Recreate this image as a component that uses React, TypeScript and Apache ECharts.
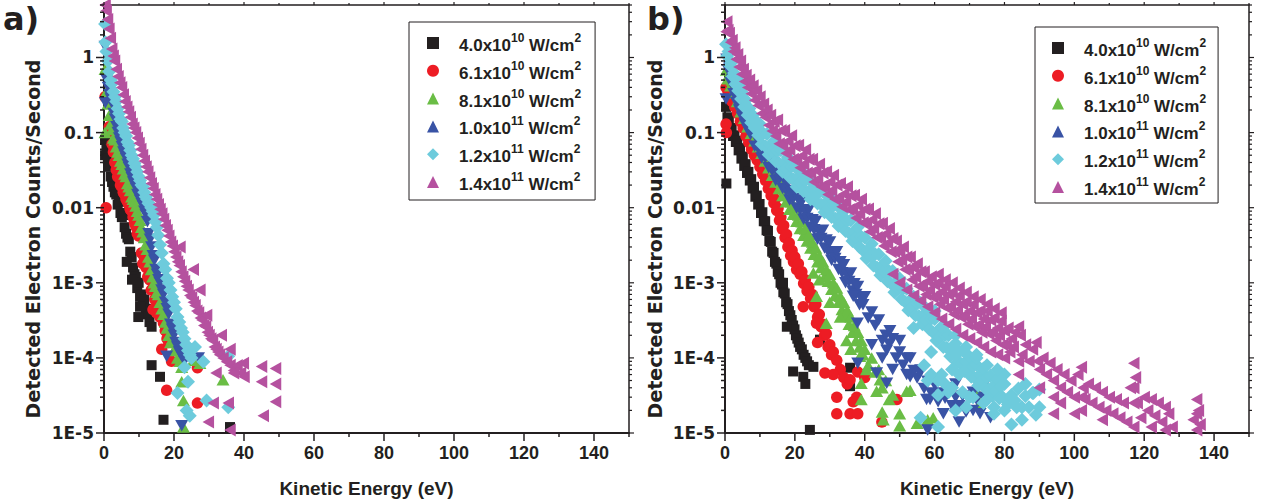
import React, { useEffect, useRef } from "react";
import * as echarts from "echarts";

type Pt = [number, number];

// ---------- legend / series meta ----------
const seriesNames: string[] = [
  "4.0x10^10 W/cm^2",
  "6.1x10^10 W/cm^2",
  "8.1x10^10 W/cm^2",
  "1.0x10^11 W/cm^2",
  "1.2x10^11 W/cm^2",
  "1.4x10^11 W/cm^2",
];
const legendBase: string[] = ["4.0x10", "6.1x10", "8.1x10", "1.0x10", "1.2x10", "1.4x10"];
const legendExp: string[] = ["10", "10", "10", "11", "11", "11"];
const unitText = " W/cm";
const unitExp = "2";

const colors: string[] = ["#231f20", "#ed1c24", "#6abd45", "#3953a5", "#6dcbdc", "#b5519f"];
const symbols: string[] = ["rect", "circle", "triangle", "triangle", "diamond", "triangle"];
const symbolRotates: number[] = [0, 0, 0, 180, 0, 90];
const symbolSizes: [number, number][] = [[10, 10], [11.5, 11.5], [13, 11.5], [13, 11.5], [14, 14], [13, 11.5]];

// ---------- axes ----------
const xTickValues: number[] = [0, 20, 40, 60, 80, 100, 120, 140];
const xTickLabels: string[] = ["0", "20", "40", "60", "80", "100", "120", "140"];
const xMinorValues: number[] = [10, 30, 50, 70, 90, 110, 130, 150];
const yTickValues: number[] = [1e-5, 1e-4, 1e-3, 0.01, 0.1, 1];
const yTickLabels: string[] = ["1E-5", "1E-4", "1E-3", "0.01", "0.1", "1"];
const yMinorMultipliers: number[] = [2, 3, 4, 5, 6, 7, 8, 9];
const xMin = 0, xMax = 150, yMin = 1e-5, yMax = 5;

// ---------- panel a data (Kinetic Energy eV, counts/s) ----------
const aBlack: Pt[] = [
  [0.3, 8e-2], [0.3, 5e-2], [0.7, 6e-2], [1.1, 4.5e-2], [1.5, 3.5e-2], [1.9, 2.6e-2], [2.3, 2.2e-2], [2.7, 1.9e-2],
  [3.1, 1.6e-2], [3.5, 1.5e-2], [3.9, 1.1e-2], [4.3, 1.2e-2], [4.7, 8.5e-3], [5.1, 7.5e-3], [5.5, 8e-3], [5.9, 5.5e-3],
  [6.3, 4.5e-3], [6.7, 4e-3], [7.1, 3.8e-3], [7.5, 2.6e-3], [7.9, 2.2e-3], [8.3, 1.6e-3], [8.7, 1.3e-3], [9.1, 1.2e-3],
  [9.5, 8.5e-4], [9.9, 1.0e-3], [10.3, 6.5e-4], [10.7, 7e-4], [11.1, 5.5e-4], [11.5, 6e-4], [12, 4.5e-4], [12.5, 3.8e-4],
  [13, 3e-4], [13.6, 2.6e-4], [9.8, 3.5e-4], [6.5, 1.9e-3], [8, 1.1e-3], [10.3, 4.8e-4], [13.6, 8e-5], [16, 5.6e-5],
  [17, 1.5e-5], [36, 1.2e-5],
];
const aRed: Pt[] = [
  [0.3, 3e-1], [0.6, 1e-2], [1.5, 1.2e-1], [1.9, 1.0e-1], [2.3, 7e-2], [2.7, 5.5e-2], [3.1, 4e-2], [3.5, 3.2e-2],
  [3.9, 2.6e-2], [4.3, 2.5e-2], [4.7, 2e-2], [5.1, 1.9e-2], [5.5, 1.6e-2], [5.9, 1.5e-2], [6.3, 1.3e-2], [6.7, 1.2e-2],
  [7.1, 1.1e-2], [7.5, 9.5e-3], [7.9, 9e-3], [8.3, 7.5e-3], [8.7, 6.3e-3], [9.1, 5.6e-3], [9.5, 4.5e-3], [9.9, 4.2e-3],
  [10.3, 4.5e-3], [10.7, 2.5e-3], [11.1, 1.8e-3], [11.5, 2.2e-3], [12, 1.6e-3], [12.5, 1.2e-3], [13, 1.1e-3], [13.5, 8e-4],
  [14, 4.4e-4], [14.5, 6e-4], [15, 4e-4], [15.5, 4.5e-4], [16, 3.5e-4], [16.5, 1.3e-4], [17, 2.9e-4], [17.5, 2.3e-4],
  [18, 1.8e-4], [18.5, 1.6e-4], [19.3, 1.6e-4], [19.3, 9e-5], [17.9, 3.7e-5], [21, 1.5e-4], [26.7, 7.4e-5], [26.7, 2.5e-5],
];
const aGreen: Pt[] = [
  [0.3, 7e-1], [0.3, 1e-1], [0.7, 3.5e-1], [1.1, 2.4e-1], [1.5, 1.7e-1], [1.9, 1.3e-1], [2.3, 1.1e-1], [2.7, 8.5e-2],
  [3.1, 8e-2], [3.5, 6.5e-2], [3.9, 5.5e-2], [4.3, 5e-2], [4.7, 4.2e-2], [5.1, 3.8e-2], [5.5, 3.3e-2], [5.9, 2.8e-2],
  [6.3, 2.6e-2], [6.7, 2.1e-2], [7.1, 1.9e-2], [7.5, 1.7e-2], [7.9, 1.4e-2], [8.3, 1.3e-2], [8.7, 1.2e-2], [9.1, 1.05e-2],
  [9.5, 9e-3], [9.9, 8e-3], [10.3, 6.8e-3], [10.7, 5.5e-3], [11.1, 4.8e-3], [11.5, 4e-3], [11.9, 3.2e-3], [12.3, 2.8e-3],
  [12.7, 2.2e-3], [13.1, 1.9e-3], [13.5, 1.5e-3], [13.9, 1.2e-3], [14.3, 1.0e-3], [14.7, 9e-4], [15.1, 7.5e-4], [15.5, 7e-4],
  [16, 5.5e-4], [16.5, 4.5e-4], [17, 3.8e-4], [17.5, 3e-4], [18, 2.5e-4], [18.5, 2e-4], [19, 1.6e-4], [19.5, 1.8e-4],
  [20, 1.25e-4], [20.5, 1.4e-4], [21, 1.0e-4], [21.7, 9e-5], [22.2, 7.5e-5], [22.2, 4.8e-5], [22.7, 2.7e-5], [22.7, 1.2e-5],
  [25.5, 9.3e-5], [27.4, 8.5e-5], [34, 5.1e-5],
];
const aBlue: Pt[] = [
  [0.3, 1.4], [0.4, 2.5e-1], [0.8, 5e-1], [1.2, 4e-1], [1.6, 3.2e-1], [2, 2.8e-1], [2.4, 2.4e-1], [2.8, 1.8e-1],
  [3.2, 1.5e-1], [3.6, 1.2e-1], [4, 1.0e-1], [4.4, 8.5e-2], [4.8, 7.5e-2], [5.2, 6.5e-2], [5.6, 5.5e-2], [6, 5e-2],
  [6.4, 4.5e-2], [6.8, 3.8e-2], [7.2, 3.4e-2], [7.6, 2.8e-2], [8, 2.5e-2], [8.4, 2.2e-2], [8.8, 2e-2], [9.2, 1.8e-2],
  [9.6, 1.5e-2], [10, 1.4e-2], [10.4, 1.25e-2], [10.8, 1.15e-2], [11.2, 1.05e-2], [11.6, 9e-3], [12, 8e-3], [12.4, 6.5e-3],
  [12.8, 4.5e-3], [13.2, 3.8e-3], [13.6, 3e-3], [14, 2.3e-3], [14.4, 2e-3], [14.8, 1.5e-3], [15.2, 1.3e-3], [15.6, 1.1e-3],
  [16, 1.0e-3], [16.5, 8e-4], [17, 7e-4], [17.5, 5.5e-4], [18, 4.5e-4], [18.5, 3.8e-4], [19, 2.8e-4], [19.5, 2.4e-4],
  [20, 2e-4], [20.5, 1.6e-4], [21, 1.4e-4], [21.5, 1.2e-4], [22, 1.1e-4], [17.9, 1.05e-4], [23, 9e-5], [25, 1.3e-4],
  [22.2, 1.25e-5], [27, 1e-4],
];
const aCyan: Pt[] = [
  [0.3, 2.8], [0.4, 1.6], [0.7, 1.2], [1.1, 9e-1], [1.5, 6.5e-1], [1.9, 5e-1], [2.3, 4.5e-1], [2.7, 3.5e-1],
  [3.1, 3e-1], [3.5, 2.6e-1], [3.9, 2.1e-1], [4.3, 1.8e-1], [4.7, 1.5e-1], [5.1, 1.4e-1], [5.5, 1.15e-1], [5.9, 1.0e-1],
  [6.3, 9e-2], [6.7, 7.5e-2], [7.1, 6.8e-2], [7.5, 5.8e-2], [7.9, 5e-2], [8.3, 4.5e-2], [8.7, 3.9e-2], [9.1, 3.5e-2],
  [9.5, 3e-2], [9.9, 2.6e-2], [10.3, 2.3e-2], [10.7, 2e-2], [11.1, 1.9e-2], [11.5, 1.6e-2], [11.9, 1.4e-2], [12.3, 1.3e-2],
  [12.7, 1.15e-2], [13.1, 1.1e-2], [13.5, 1.0e-2], [13.9, 9e-3], [14.3, 8e-3], [14.7, 6.5e-3], [15.1, 5.5e-3], [15.5, 4.3e-3],
  [16, 3.2e-3], [16.5, 2.5e-3], [17, 1.8e-3], [17.5, 1.5e-3], [18, 1.15e-3], [18.5, 1e-3], [19, 8e-4], [19.5, 6.5e-4],
  [20, 5.5e-4], [20.5, 4.5e-4], [21, 3.5e-4], [21.5, 3e-4], [22, 2.5e-4], [22.5, 2.2e-4], [23, 1.8e-4], [23.5, 1.5e-4],
  [24, 1.25e-4], [24.5, 1.1e-4], [25, 1e-4], [23, 7.5e-5], [24, 4.8e-5], [21, 3.4e-5], [23.6, 2e-5], [24.5, 1.7e-5],
  [29.3, 2.7e-5], [28.4, 8.9e-5], [35.5, 2.2e-5], [35.5, 1.05e-4], [26, 1.4e-4],
];
const aMagenta: Pt[] = [
  [0.3, 5.0], [0.6, 4.2], [1, 3.2], [1.4, 2.4], [1.8, 1.8], [2.2, 1.3], [2.6, 1.05], [3, 0.9], [3.5, 0.7], [4, 0.56],
  [4.5, 0.46], [5, 0.4], [5.5, 0.32], [6, 0.26], [6.5, 0.22], [7, 0.19], [7.5, 0.16], [8, 0.13], [8.5, 0.115], [9, 0.1],
  [9.5, 0.085], [10, 0.072], [10.5, 0.06], [11, 0.05], [11.5, 0.042], [12, 0.035], [12.5, 0.03], [13, 0.025], [13.5, 0.021],
  [14, 0.018], [14.5, 0.015], [15, 0.013], [15.5, 0.011], [16, 0.0095], [16.5, 0.0083], [17, 0.007], [17.5, 0.0058],
  [18, 0.005], [18.5, 0.0042], [19, 0.0035], [19.5, 0.0031], [20, 0.0026], [20.5, 0.0022], [21, 0.0019], [21.5, 0.0017],
  [22, 0.0014], [22.5, 0.0012], [23, 0.00105], [23.5, 0.0009], [24, 0.0008], [24.5, 0.00068], [25, 0.00063], [25.5, 0.00055],
  [26, 0.0005], [26.5, 0.00042], [27, 0.0004], [27.5, 0.00034], [28, 0.00032], [28.5, 0.00027], [29, 0.00026], [29.5, 0.00022],
  [30, 0.0002], [30.5, 0.00018], [31, 0.00017], [31.5, 0.00014], [32, 0.00013], [32.5, 0.00012], [33, 0.00011], [34, 0.0001],
  [35, 8.9e-5], [36, 8e-5], [37, 6.8e-5], [38, 7.9e-5], [39, 6.3e-5], [40, 5.6e-5], [21.7, 0.003], [25.5, 0.0015],
  [27.4, 0.0008], [29.3, 0.00037], [33.5, 0.0002], [36, 0.00013], [39.8, 8.5e-5], [45, 7.7e-5], [49, 7.2e-5], [45, 4.8e-5],
  [49, 4.5e-5], [49, 2.6e-5], [45.5, 1.7e-5], [36, 1.1e-5], [29.8, 1.4e-5], [31.2, 2.5e-5], [35.5, 2.5e-5], [32, 6.3e-5],
  [37, 6.3e-5],
];

// ---------- panel b data ----------
const bBlack: Pt[] = [
  [0.3, 0.22], [0.4, 0.021], [0.7, 0.16], [1.1, 0.15], [1.5, 0.11], [1.9, 0.115], [2.3, 0.09], [2.7, 0.092], [3.1, 0.075],
  [3.5, 0.078], [3.9, 0.058], [4.3, 0.062], [4.7, 0.045], [5.1, 0.048], [5.5, 0.036], [5.9, 0.038], [6.3, 0.029], [6.7, 0.03],
  [7.1, 0.023], [7.5, 0.024], [7.9, 0.018], [8.3, 0.019], [8.7, 0.014], [9.1, 0.0145], [9.5, 0.011], [9.9, 0.0112],
  [10.3, 0.0085], [10.7, 0.0087], [11.1, 0.0066], [11.5, 0.0066], [11.9, 0.005], [12.3, 0.0049], [12.7, 0.0036], [13.1, 0.0035],
  [13.5, 0.0026], [13.9, 0.0025], [14.3, 0.0019], [14.7, 0.0018], [15.1, 0.0014], [15.5, 0.0013], [15.9, 0.001], [16.3, 0.00095],
  [16.7, 0.00075], [17.1, 0.00072], [17.5, 0.00055], [17.9, 0.00052], [18.3, 0.00042], [18.7, 0.00037], [19.1, 0.00032],
  [19.5, 0.00027], [19.9, 0.00024], [20.3, 0.0002], [20.7, 0.00018], [21.1, 0.00016], [21.5, 0.00014], [22, 0.00013],
  [22.5, 0.00011], [23, 0.0001], [23.5, 9e-5], [24, 8e-5], [19.5, 6.6e-5], [22.4, 5.6e-5], [23, 4.5e-5], [25.3, 7.6e-5],
  [27.2, 1.75e-4], [35.8, 7.4e-5], [35.8, 4.2e-5], [24.3, 1.1e-5], [16.6, 1e-3], [17.7, 2.6e-4],
];
const bRed: Pt[] = [
  [0.3, 0.4], [0.3, 0.13], [0.4, 0.1], [0.8, 0.36], [1.2, 0.3], [1.6, 0.33], [2, 0.26], [2.4, 0.3], [2.8, 0.22], [3.2, 0.25],
  [3.6, 0.18], [4, 0.2], [4.4, 0.14], [4.8, 0.16], [5.2, 0.115], [5.6, 0.13], [6, 0.09], [6.4, 0.105], [6.8, 0.074],
  [7.2, 0.085], [7.6, 0.06], [8, 0.07], [8.4, 0.05], [8.8, 0.057], [9.2, 0.043], [9.6, 0.048], [10, 0.035], [10.4, 0.04],
  [10.8, 0.028], [11.2, 0.033], [11.6, 0.023], [12, 0.026], [12.4, 0.018], [12.8, 0.02], [13.2, 0.0145], [13.6, 0.016],
  [14, 0.0115], [14.4, 0.013], [14.8, 0.0092], [15.2, 0.0098], [15.6, 0.0068], [16, 0.0075], [16.4, 0.0052], [16.8, 0.0058],
  [17.2, 0.004], [17.6, 0.0044], [18, 0.003], [18.4, 0.0034], [18.8, 0.0023], [19.2, 0.0027], [19.6, 0.0019], [20, 0.0022],
  [20.5, 0.0015], [21, 0.0018], [21.5, 0.0013], [22, 0.0014], [22.5, 0.00098], [23, 0.0011], [23.5, 0.00078], [24, 0.00088],
  [24.5, 0.00062], [25, 0.0007], [25.5, 0.00048], [26, 0.00052], [26.5, 0.00035], [27, 0.00038], [27.5, 0.00026], [28, 0.00028],
  [28.5, 0.0002], [29, 0.00021], [29.5, 0.00014], [30, 0.00015], [30.5, 0.00011], [31, 0.00012], [32, 9.3e-5], [33, 7e-5],
  [34, 5.5e-5], [35, 4.5e-5], [22.4, 4.8e-4], [26.2, 2.9e-4], [26.5, 1.6e-4], [28.6, 6.3e-5], [32, 3e-5], [32, 1.8e-5],
  [35.8, 5.1e-5], [35.8, 1.8e-5], [37.7, 3e-5], [38, 1.8e-5], [44.9, 1.4e-5], [49.2, 2.8e-5], [31, 6e-5], [36.7, 2.6e-5],
  [38, 6.5e-5], [40, 5.5e-5],
];
const bGreen: Pt[] = [
  [0.4, 0.68], [0.8, 0.52], [1.2, 0.6], [1.6, 0.42], [2, 0.5], [2.5, 0.34], [3, 0.39], [3.5, 0.26], [4, 0.3], [4.5, 0.19],
  [5, 0.23], [5.5, 0.155], [6, 0.18], [6.5, 0.12], [7, 0.145], [7.5, 0.098], [8, 0.115], [8.5, 0.078], [9, 0.094],
  [9.5, 0.065], [10, 0.08], [10.5, 0.053], [11, 0.063], [11.5, 0.042], [12, 0.052], [12.5, 0.034], [13, 0.041], [13.5, 0.027],
  [14, 0.032], [14.5, 0.022], [15, 0.027], [15.5, 0.018], [16, 0.022], [16.5, 0.0145], [17, 0.0175], [17.5, 0.012],
  [18, 0.0145], [18.5, 0.0095], [19, 0.012], [19.5, 0.0082], [20, 0.0101], [20.5, 0.0066], [21, 0.008], [21.5, 0.0053],
  [22, 0.0065], [22.5, 0.0043], [23, 0.0052], [23.5, 0.0036], [24, 0.0044], [24.5, 0.0029], [25, 0.0035], [25.5, 0.0024],
  [26, 0.0029], [26.5, 0.0019], [27, 0.0023], [27.5, 0.0016], [28, 0.0019], [28.5, 0.0012], [29, 0.0015], [29.5, 0.00105],
  [30, 0.0013], [30.5, 0.00082], [31, 0.001], [31.5, 0.00068], [32, 0.00085], [32.5, 0.00055], [33, 0.00066], [33.5, 0.00044],
  [34, 0.00055], [34.5, 0.00036], [35, 0.00043], [35.5, 0.00028], [36, 0.00035], [36.5, 0.00022], [37, 0.00027], [37.5, 0.00017],
  [38, 0.00022], [38.5, 0.00014], [39, 0.00017], [39.5, 0.00011], [40, 0.00013], [41, 8e-5], [42, 1e-4], [43, 6.5e-5],
  [44, 7e-5], [45, 4e-5], [46, 5e-5], [47, 2.8e-5], [48, 3.2e-5], [50, 1.8e-5], [25.3, 1.35e-3], [26.2, 6.6e-4], [29, 2.9e-4],
  [34.8, 1.7e-4], [38.6, 1.05e-4], [39, 4.6e-5], [39, 2.8e-5], [44.4, 5.1e-5], [43.4, 3.6e-5], [45, 1.9e-5], [45.3, 1.5e-5],
  [50, 1.25e-5], [52, 3.6e-5], [53, 3.7e-5], [55, 1.35e-5], [58, 1.5e-5], [59.6, 1.6e-5], [72, 3.7e-5], [73, 2.5e-5],
  [40.5, 7e-5], [36, 1.3e-4], [30, 5.5e-4], [33, 3.5e-4], [27, 1.1e-3],
];
const bBlue: Pt[] = [
  [0.3, 0.28], [0.5, 0.95], [0.9, 0.68], [1.3, 0.72], [1.7, 0.46], [2.1, 0.5], [2.5, 0.33], [2.9, 0.4], [3.3, 0.25],
  [3.7, 0.29], [4.1, 0.2], [4.5, 0.23], [4.9, 0.16], [5.3, 0.19], [5.7, 0.13], [6.1, 0.165], [6.5, 0.11], [6.9, 0.13],
  [7.3, 0.094], [7.7, 0.115], [8, 0.112], [8.5, 0.066], [9, 0.084], [9.5, 0.061], [10, 0.079], [10.5, 0.046], [11, 0.056],
  [11.5, 0.046], [12, 0.059], [12.5, 0.034], [13, 0.043], [13.5, 0.031], [14, 0.04], [14.5, 0.023], [15, 0.029], [15.5, 0.024],
  [16, 0.031], [16.5, 0.018], [17, 0.023], [17.5, 0.0168], [18, 0.0216], [18.5, 0.0127], [19, 0.0158], [19.5, 0.0132],
  [20, 0.0169], [20.5, 0.0099], [21, 0.0127], [21.5, 0.0093], [22, 0.012], [22.5, 0.007], [23, 0.0086], [23.5, 0.0072],
  [24, 0.0094], [24.5, 0.0055], [25, 0.0069], [25.5, 0.0051], [26, 0.0066], [26.5, 0.0038], [27, 0.0047], [27.5, 0.0039],
  [28, 0.005], [28.5, 0.0029], [29, 0.0037], [29.5, 0.0026], [30, 0.0035], [30.5, 0.002], [31, 0.0025], [31.5, 0.0021],
  [32, 0.0026], [32.5, 0.0015], [33, 0.0019], [33.5, 0.00136], [34, 0.00174], [34.5, 0.001], [35, 0.00125], [35.5, 0.00104],
  [36, 0.00135], [36.5, 0.00078], [37, 0.00097], [37.5, 0.0007], [38, 0.00089], [38.5, 0.00051], [39, 0.00062], [39.5, 0.00051],
  [40, 0.00065], [41, 0.00034], [42, 0.00041], [43, 0.00027], [44, 0.00032], [45, 0.00017], [46, 0.0002], [47, 0.000153],
  [48, 0.00018], [49, 0.0001], [50, 0.00012], [51, 8e-5], [52, 1e-4], [53, 5.6e-5], [54, 6.8e-5], [55, 5.4e-5], [56, 6.9e-5],
  [57, 3.9e-5], [58, 4.9e-5], [59, 3.4e-5], [60, 4.4e-5], [61, 2.6e-5], [62, 3.4e-5], [63, 2.9e-5], [64, 3.8e-5], [65, 2.3e-5],
  [66, 3e-5], [67, 2.3e-5], [68, 3.1e-5], [69, 1.9e-5], [70, 6.3e-5], [71, 2e-5], [72, 2.8e-5], [73, 1.8e-5], [75, 5e-5],
  [76, 1.6e-5], [37.9, 2.9e-4], [36.7, 6.6e-4], [47.2, 2.3e-4], [46.3, 1.26e-4], [43.4, 6.3e-5], [46.3, 4.6e-5], [38, 8.5e-5],
  [55.8, 6.3e-5], [58.7, 2.8e-5], [58, 1.1e-5], [50, 1.7e-4], [52, 6e-5], [57.7, 2.8e-5], [59.6, 5.1e-5], [64.4, 4e-5],
  [45, 1e-4], [42, 1.5e-4], [53, 1e-4], [48, 7e-5], [61, 5e-5], [66, 4.5e-5], [71, 3.5e-5], [74, 3e-5], [62.5, 1.8e-5],
  [67, 1.4e-5],
];
const bCyan: Pt[] = [
  [0.3, 1.5], [0.6, 1.05], [1, 1.2], [1.4, 0.78], [1.8, 0.85], [2.2, 0.56], [2.6, 0.62], [3, 0.44], [3.4, 0.52], [3.8, 0.36],
  [4.2, 0.44], [4.6, 0.28], [5, 0.34], [5.5, 0.22], [6, 0.27], [6.5, 0.17], [7, 0.21], [7.5, 0.135], [8, 0.17], [8.5, 0.115],
  [9, 0.14], [9.5, 0.092], [10, 0.13], [10.5, 0.07], [11, 0.097], [11.5, 0.066], [12, 0.096], [12.5, 0.051], [13, 0.068],
  [13.5, 0.056], [14, 0.077], [14.5, 0.042], [15, 0.057], [15.5, 0.039], [16, 0.058], [16.5, 0.03], [17, 0.04], [17.5, 0.033],
  [18, 0.047], [18.5, 0.0255], [19, 0.035], [19.5, 0.024], [20, 0.035], [20.5, 0.019], [21, 0.026], [21.5, 0.0216], [22, 0.03],
  [22.5, 0.0165], [23, 0.023], [23.5, 0.016], [24, 0.024], [24.5, 0.013], [25, 0.018], [25.5, 0.015], [26, 0.021], [26.5, 0.0114],
  [27, 0.016], [27.5, 0.011], [28, 0.0163], [28.5, 0.0087], [29, 0.0118], [29.5, 0.0098], [30, 0.0137], [30.5, 0.0075],
  [31, 0.0105], [31.5, 0.0072], [32, 0.0108], [32.5, 0.0057], [33, 0.0078], [33.5, 0.0064], [34, 0.009], [34.5, 0.0049],
  [35, 0.0067], [35.5, 0.0046], [36, 0.0068], [36.5, 0.0036], [37, 0.0048], [37.5, 0.004], [38, 0.0055], [38.5, 0.003],
  [39, 0.0041], [39.5, 0.0027], [40, 0.004], [40.5, 0.0021], [41, 0.0028], [41.5, 0.0023], [42, 0.0033], [42.5, 0.0017],
  [43, 0.0024], [43.5, 0.0016], [44, 0.0024], [44.5, 0.00126], [45, 0.0017], [45.5, 0.0014], [46, 0.00195], [46.5, 0.00105],
  [47, 0.00143], [47.5, 0.00098], [48, 0.00144], [48.5, 0.00075], [49, 0.001], [49.5, 0.00083], [50, 0.00114], [50.5, 0.00061],
  [51, 0.00083], [51.5, 0.00056], [52, 0.00083], [52.5, 0.00043], [53, 0.00057], [53.5, 0.00047], [54, 0.00065], [54.5, 0.00037],
  [55, 0.00053], [55.5, 0.00036], [56, 0.00054], [56.5, 0.00028], [57, 0.00038], [57.5, 0.00032], [58, 0.00044], [58.5, 0.00024],
  [59, 0.00033], [59.5, 0.00022], [60, 0.00033], [60.5, 0.00017], [61, 0.00023], [61.5, 0.00019], [62, 0.00026], [62.5, 0.00014],
  [63, 0.0002], [63.5, 0.000136], [64, 0.0002], [64.5, 0.000105], [65, 0.00014], [65.5, 0.000115], [66, 0.000156],
  [66.5, 8.6e-5], [67, 0.00012], [67.5, 8.4e-5], [68, 0.000125], [68.5, 6.7e-5], [69, 9e-5], [69.5, 7.5e-5], [70, 0.000104],
  [70.5, 5.6e-5], [71, 7.7e-5], [71.5, 5.4e-5], [72, 8.1e-5], [72.5, 4.3e-5], [73, 6e-5], [73.5, 5e-5], [74, 7.2e-5],
  [74.5, 3.9e-5], [75, 5.5e-5], [75.5, 3.8e-5], [76, 5.8e-5], [76.5, 3.1e-5], [77, 4.3e-5], [77.5, 3.6e-5], [78, 5.2e-5],
  [78.5, 2.9e-5], [79, 4.2e-5], [79.5, 3e-5], [80, 4.5e-5], [81, 2.4e-5], [82, 3.2e-5], [83, 2.7e-5], [84, 3.9e-5],
  [85, 2.2e-5], [86, 3.1e-5], [87, 2.2e-5], [88, 3.4e-5], [89, 1.75e-5], [90, 2.2e-5], [56, 1.6e-5], [61, 1.2e-5], [61, 3.2e-5],
  [66, 2e-5], [75, 2.8e-5], [85, 1.5e-5], [70, 3e-5], [62, 6e-5], [58, 5e-5], [67, 6e-5], [72, 1e-4], [80, 6e-5], [83.5, 2.2e-5],
  [88.3, 3.4e-5], [64, 3.5e-5], [69, 2.2e-5], [77, 1.8e-5], [82, 1.3e-5], [86, 4.5e-5], [90, 3.8e-5], [54, 2.5e-4],
  [59, 1.2e-4], [65, 7e-5], [57, 8e-5], [59, 6e-5], [61, 5e-5], [63, 4.5e-5], [65, 4e-5], [68, 3.5e-5], [71, 3e-5],
  [74, 2.5e-5], [77, 2.2e-5], [80, 2e-5], [60, 0.00042], [63, 0.00027], [66, 0.0002], [69, 0.00014], [72, 0.00011],
  [75, 8e-5], [78, 7e-5],
];
const bMagenta: Pt[] = [
  [0.3, 2.2], [0.5, 3.0], [0.8, 2.3], [1.2, 2.1], [1.6, 1.6], [2, 1.7], [2.4, 1.2], [2.8, 1.35], [3.2, 0.95], [3.6, 1.1],
  [4, 0.75], [4.4, 0.9], [4.8, 0.6], [5.2, 0.7], [5.6, 0.48], [6, 0.58], [6.5, 0.4], [7, 0.5], [7.5, 0.33], [8, 0.42],
  [8.5, 0.27], [9, 0.36], [9.5, 0.23], [10, 0.3], [10.5, 0.18], [11, 0.24], [11.5, 0.16], [12, 0.2], [12.5, 0.125], [13, 0.17],
  [13.5, 0.105], [14, 0.14], [14.5, 0.09], [15, 0.147], [15.5, 0.071], [16, 0.107], [16.5, 0.07], [17, 0.107], [17.5, 0.053],
  [18, 0.077], [18.5, 0.059], [19, 0.091], [19.5, 0.044], [20, 0.067], [20.5, 0.044], [21, 0.068], [21.5, 0.034], [22, 0.049],
  [22.5, 0.038], [23, 0.059], [23.5, 0.029], [24, 0.044], [24.5, 0.029], [25, 0.044], [25.5, 0.022], [26, 0.0315], [26.5, 0.024],
  [27, 0.038], [27.5, 0.019], [28, 0.029], [28.5, 0.019], [29, 0.03], [29.5, 0.015], [30, 0.022], [30.5, 0.017], [31, 0.027],
  [31.5, 0.013], [32, 0.02], [32.5, 0.0134], [33, 0.021], [33.5, 0.0103], [34, 0.0152], [34.5, 0.0119], [35, 0.019],
  [35.5, 0.0094], [36, 0.0144], [36.5, 0.0095], [37, 0.0147], [37.5, 0.0073], [38, 0.0108], [38.5, 0.0083], [39, 0.013],
  [39.5, 0.0063], [40, 0.0095], [40.5, 0.0062], [41, 0.0096], [41.5, 0.0048], [42, 0.0069], [42.5, 0.0053], [43, 0.0083],
  [43.5, 0.004], [44, 0.0061], [44.5, 0.004], [45, 0.0062], [45.5, 0.0031], [46, 0.0045], [46.5, 0.0034], [47, 0.0053],
  [47.5, 0.0026], [48, 0.0039], [48.5, 0.0026], [49, 0.0036], [49.5, 0.0019], [50, 0.0026], [50.5, 0.002], [51, 0.003],
  [51.5, 0.0015], [52, 0.0022], [52.5, 0.0015], [53, 0.0022], [53.5, 0.0011], [54, 0.0016], [54.5, 0.0012], [55, 0.0018],
  [55.5, 0.0009], [56, 0.0014], [56.5, 0.0009], [57, 0.0014], [57.5, 0.0007], [58, 0.00105], [58.5, 0.0008], [59, 0.0012],
  [59.5, 0.00064], [60, 0.00095], [60.5, 0.00066], [61, 0.001], [61.5, 0.00052], [62, 0.00076], [62.5, 0.0006], [63, 0.0009],
  [63.5, 0.00046], [64, 0.0007], [64.5, 0.00048], [65, 0.00074], [65.5, 0.00038], [66, 0.00056], [66.5, 0.00043], [67, 0.00068],
  [67.5, 0.00035], [68, 0.00052], [68.5, 0.00036], [69, 0.00056], [69.5, 0.00028], [70, 0.00042], [70.5, 0.00033], [71, 0.00052],
  [71.5, 0.00026], [72, 0.0004], [72.5, 0.00027], [73, 0.00042], [73.5, 0.00022], [74, 0.00033], [74.5, 0.00026], [75, 0.00042],
  [75.5, 0.00021], [76, 0.00032], [76.5, 0.00022], [77, 0.00034], [77.5, 0.00017], [78, 0.00025], [78.5, 0.0002], [79, 0.00031],
  [79.5, 0.00015], [80, 0.00023], [80.5, 0.00015], [81, 0.00025], [81.5, 0.00012], [82, 0.00018], [82.5, 0.00014], [83, 0.00022],
  [84, 0.00026], [84.5, 0.0002], [85, 0.00011], [86, 0.00015], [87, 9e-5], [88, 0.00013], [89, 0.00016], [89.5, 9e-5],
  [90, 7e-5], [91, 1e-4], [92, 6e-5], [93, 8.5e-5], [94, 5e-5], [95, 7e-5], [96, 4e-5], [97, 6e-5], [98, 3.5e-5], [99, 5e-5],
  [100, 3e-5], [101, 6e-5], [102, 7.5e-5], [102.5, 4e-5], [103, 2.8e-5], [104, 4.5e-5], [105, 2.5e-5], [106, 4e-5],
  [107, 2.2e-5], [108, 3.5e-5], [109, 2e-5], [110, 3e-5], [111, 1.8e-5], [112, 2.8e-5], [113, 1.6e-5], [114, 2.5e-5],
  [115, 1.4e-5], [116, 4e-5], [117, 8.5e-5], [117.5, 5.5e-5], [118, 2.5e-5], [119, 1.6e-5], [120, 3e-5], [121, 2e-5],
  [122, 2.8e-5], [123, 1.7e-5], [124, 2.5e-5], [125, 1.4e-5], [126, 2.2e-5], [127, 1.8e-5], [128, 1.2e-5], [134, 1.5e-5],
  [135, 2.8e-5], [135.5, 2e-5], [136, 1.3e-5], [84, 9e-5], [84, 6e-5], [94, 3e-5], [94, 1.8e-5], [102, 3e-5], [102, 2e-5],
  [117, 4e-5], [117, 2.5e-5], [117, 1.2e-5], [135, 1.8e-5], [135, 1.1e-5], [108, 1.5e-5], [122, 1.2e-5], [126, 1.1e-5],
  [100, 1.8e-5], [96, 2.5e-5], [90, 4e-5],
  [48, 0.0013], [50, 0.001], [52, 0.0008], [54, 0.00068], [56, 0.00058], [58, 0.00048], [60, 0.0004], [62, 0.00033],
  [64, 0.00028], [66, 0.00024], [68, 0.0002], [70, 0.00018], [72, 0.00016], [74, 0.00014], [76, 0.00012], [78, 0.00011],
  [80, 0.0001], [61, 0.0013], [63, 0.0011], [65, 0.001], [67, 0.00085], [69, 0.00075], [71, 0.00065], [73, 0.0006],
  [75, 0.00052], [77, 0.00045], [79, 0.0004],
];

const panelData: Pt[][][] = [
  [aBlack, aRed, aGreen, aBlue, aCyan, aMagenta],
  [bBlack, bRed, bGreen, bBlue, bCyan, bMagenta],
];

// ---------- layout ----------
const INK = "#231f20";
const grids = [
  { left: 104, top: 5, width: 525, height: 428 },
  { left: 725, top: 5, width: 524, height: 428 },
];
const legendBoxes = [
  { left: 409, top: 22, padding: [10, 14, 7, 18] },
  { left: 1035, top: 27, padding: [10, 12, 5, 17] },
];
const panelLetters = [
  { text: "a)", x: 3, y: 3 },
  { text: "b)", x: 647, y: 3 },
];
const yTitlePos = [{ x: 33, y: 239 }, { x: 655, y: 239 }];
const yTitle = "Detected Electron Counts/Second";
const xTitle = "Kinetic Energy (eV)";

function buildOption(): any {
  const yTickMarks: number[][] = [];
  yTickValues.forEach((d) => {
    yTickMarks.push([xMin, d, 1]);
    yMinorMultipliers.forEach((m) => {
      const v = m * d;
      if (v <= yMax + 1e-9) yTickMarks.push([xMin, v, 0]);
    });
  });
  const xTickMarks: number[][] = [
    ...xTickValues.map((v) => [v, yMin, 1]),
    ...xMinorValues.map((v) => [v, yMin, 0]),
  ];

  const series: any[] = [];
  panelData.forEach((list, gi) => {
    list.forEach((pts, si) => {
      series.push({
        type: "scatter",
        name: seriesNames[si],
        xAxisIndex: gi,
        yAxisIndex: gi,
        data: pts,
        symbol: symbols[si],
        symbolSize: symbolSizes[si],
        symbolRotate: symbolRotates[si],
        itemStyle: { color: colors[si], opacity: 1 },
        emphasis: { disabled: true },
        clip: true,
        z: 2,
      });
    });
    series.push({
      type: "custom",
      xAxisIndex: gi,
      yAxisIndex: gi,
      silent: true,
      clip: false,
      z: 5,
      data: yTickMarks,
      renderItem: (params: any, api: any) => {
        const v = api.value(1);
        const major = api.value(2) === 1;
        const pL = api.coord([xMin, v]);
        const pR = api.coord([xMax, v]);
        const lenL = major ? 8 : 4;
        const lenR = major ? 5 : 3;
        return {
          type: "group",
          children: [
            { type: "line", shape: { x1: pL[0] - lenL, y1: pL[1], x2: pL[0], y2: pL[1] }, style: { stroke: INK, lineWidth: 1.5 } },
            { type: "line", shape: { x1: pR[0], y1: pR[1], x2: pR[0] + lenR, y2: pR[1] }, style: { stroke: INK, lineWidth: 1.2 } },
          ],
        };
      },
    });
    series.push({
      type: "custom",
      xAxisIndex: gi,
      yAxisIndex: gi,
      silent: true,
      clip: false,
      z: 5,
      data: xTickMarks,
      renderItem: (params: any, api: any) => {
        const v = api.value(0);
        const major = api.value(2) === 1;
        const pB = api.coord([v, yMin]);
        const pT = api.coord([v, yMax]);
        const lenB = major ? 8 : 4;
        const lenT = major ? 3 : 2;
        return {
          type: "group",
          children: [
            { type: "line", shape: { x1: pB[0], y1: pB[1], x2: pB[0], y2: pB[1] + lenB }, style: { stroke: INK, lineWidth: 1.5 } },
            { type: "line", shape: { x1: pT[0], y1: pT[1], x2: pT[0], y2: pT[1] - lenT }, style: { stroke: INK, lineWidth: 1.2 } },
          ],
        };
      },
    });
  });

  const richLegend = {
    m: { fontSize: 17, fontWeight: "bold", fontFamily: "Liberation Sans", color: INK, lineHeight: 22, verticalAlign: "bottom" },
    s: { fontSize: 12, fontWeight: "bold", fontFamily: "Liberation Sans", color: INK, lineHeight: 10, verticalAlign: "top" },
  };

  return {
    animation: false,
    backgroundColor: "#ffffff",
    grid: grids.map((g) => ({ ...g, show: true, borderColor: INK, borderWidth: 1.5, backgroundColor: "transparent" })),
    xAxis: grids.map((g, gi) => ({
      type: "value",
      gridIndex: gi,
      min: xMin,
      max: xMax,
      interval: 10,
      axisLine: { show: true, onZero: false, lineStyle: { color: INK, width: 2 } },
      axisTick: { show: false },
      splitLine: { show: false },
      axisLabel: {
        margin: 11,
        fontSize: 18,
        fontWeight: "bold",
        fontFamily: "Liberation Sans",
        color: INK,
        formatter: (v: number) => {
          const i = xTickValues.indexOf(v);
          return i >= 0 ? xTickLabels[i] : "";
        },
      },
      name: xTitle,
      nameLocation: "middle",
      nameGap: 46,
      nameTextStyle: { fontSize: 19, fontWeight: "bold", fontFamily: "Liberation Sans", color: INK },
    })),
    yAxis: grids.map((g, gi) => ({
      type: "log",
      logBase: 10,
      gridIndex: gi,
      min: yMin,
      max: yMax,
      axisLine: { show: true, lineStyle: { color: INK, width: 2 } },
      axisTick: { show: false },
      minorTick: { show: false },
      splitLine: { show: false },
      axisLabel: {
        margin: 10,
        fontSize: 17,
        fontWeight: "bold",
        fontFamily: "DejaVu Sans",
        color: INK,
        formatter: (v: number) => {
          const i = yTickValues.findIndex((t) => Math.abs(Math.log10(t) - Math.log10(v)) < 1e-6);
          return i >= 0 ? yTickLabels[i] : "";
        },
      },
    })),
    legend: legendBoxes.map((b) => ({
      orient: "vertical",
      left: b.left,
      top: b.top,
      padding: b.padding,
      itemWidth: 12,
      itemHeight: 12,
      itemGap: 5.8,
      borderColor: INK,
      borderWidth: 1,
      backgroundColor: "#ffffff",
      selectedMode: false,
      data: seriesNames,
      formatter: (name: string) => {
        const i = seriesNames.indexOf(name);
        return `{m|${legendBase[i]}}{s|${legendExp[i]}}{m|${unitText}}{s|${unitExp}}`;
      },
      textStyle: { padding: [0, 0, 0, 15], rich: richLegend },
    })),
    graphic: [
      ...panelLetters.map((p) => ({
        type: "text",
        left: p.x,
        top: p.y,
        style: { text: p.text, fontSize: 32, fontWeight: "bold", fontFamily: "DejaVu Sans", fill: INK },
      })),
      ...yTitlePos.map((p) => ({
        type: "text",
        x: p.x,
        y: p.y,
        rotation: Math.PI / 2,
        style: {
          text: yTitle,
          fontSize: 19,
          fontWeight: "bold",
          fontFamily: "DejaVu Sans",
          fill: INK,
          align: "center",
          verticalAlign: "middle",
        },
      })),
    ],
    series,
  };
}

export default function App() {
  const ref = useRef<HTMLDivElement>(null);
  useEffect(() => {
    if (!ref.current) return;
    const chart = echarts.init(ref.current, null, { renderer: "svg" });
    chart.setOption(buildOption());
    return () => chart.dispose();
  }, []);
  return (
    <div
      ref={ref}
      style={{ position: "absolute", left: 0, top: 0, width: 1263, height: 504, background: "#ffffff" }}
    />
  );
}
